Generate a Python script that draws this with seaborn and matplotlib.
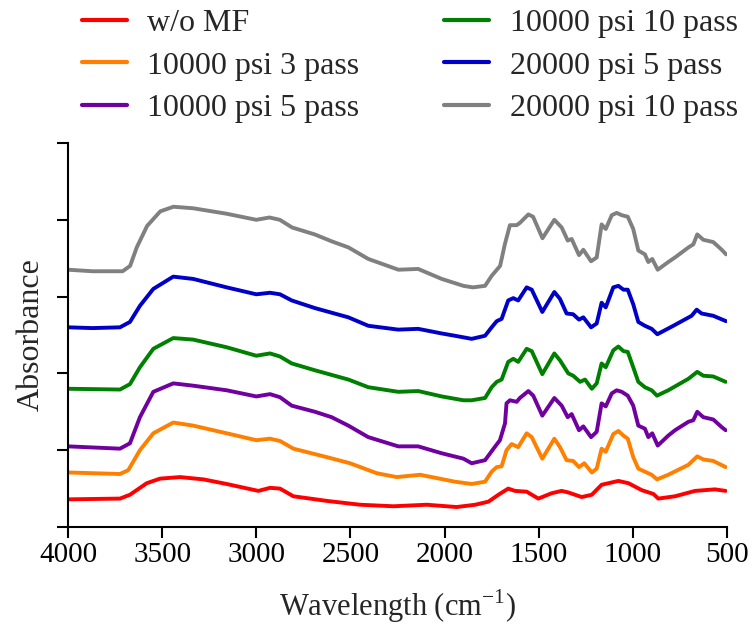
import matplotlib
matplotlib.use("Agg")
import matplotlib.pyplot as plt
import seaborn as sns
import pandas as pd

sns.set_style("ticks")
plt.rcParams["font.family"] = ["Liberation Serif", "DejaVu Serif"]
plt.rcParams["mathtext.fontset"] = "custom"
plt.rcParams["mathtext.rm"] = "Liberation Serif"

# ---- data (wavenumber cm-1, absorbance offset units) ----
labels = ["w/o MF", "10000 psi 3 pass", "10000 psi 5 pass",
          "10000 psi 10 pass", "20000 psi 5 pass", "20000 psi 10 pass"]
colors = ["#ff0000", "#ff8000", "#7000a0", "#008000", "#0000c8", "#808080"]

wn_red = [4000, 3724, 3671, 3582, 3511, 3405, 3281, 3157, 2989, 2927, 2874, 2803, 2626, 2449,
          2272, 2095, 1936, 1837, 1767, 1714, 1662, 1626, 1564, 1502, 1431, 1378, 1343, 1272,
          1218, 1166, 1130, 1077, 1023, 953, 891, 865, 776, 670, 564, 507]
abs_red = [0.36, 0.37, 0.42, 0.57, 0.63, 0.65, 0.62, 0.56, 0.47, 0.51, 0.50, 0.40, 0.34, 0.29,
           0.27, 0.29, 0.26, 0.29, 0.33, 0.42, 0.50, 0.47, 0.46, 0.37, 0.44, 0.47, 0.45, 0.39,
           0.42, 0.55, 0.57, 0.60, 0.57, 0.48, 0.43, 0.37, 0.40, 0.47, 0.49, 0.47]

wn_orange = [4000, 3724, 3680, 3618, 3547, 3441, 3335, 3157, 3000, 2927, 2874, 2803, 2626, 2502,
             2360, 2254, 2130, 1945, 1856, 1785, 1750, 1723, 1697, 1671, 1644, 1609, 1564, 1537,
             1481, 1417, 1387, 1352, 1317, 1286, 1258, 1218, 1192, 1166, 1144, 1104, 1077, 1050,
             1027, 998, 971, 936, 900, 872, 812, 705, 658, 626, 573, 507]
abs_orange = [0.71, 0.69, 0.74, 1.00, 1.22, 1.36, 1.32, 1.22, 1.13, 1.15, 1.12, 1.02, 0.91, 0.83,
              0.70, 0.65, 0.68, 0.59, 0.56, 0.59, 0.72, 0.78, 0.79, 1.00, 1.08, 1.04, 1.22, 1.17,
              0.89, 1.15, 1.04, 0.87, 0.86, 0.78, 0.83, 0.71, 0.76, 1.02, 0.98, 1.21, 1.25, 1.19,
              1.15, 0.91, 0.76, 0.72, 0.68, 0.62, 0.68, 0.81, 0.92, 0.88, 0.86, 0.78]

wn_purple = [4000, 3724, 3671, 3618, 3547, 3441, 3335, 3157, 3000, 2927, 2874, 2812, 2688, 2600,
             2511, 2405, 2246, 2140, 2015, 1900, 1856, 1785, 1740, 1706, 1679, 1671, 1653, 1617,
             1600, 1555, 1529, 1481, 1417, 1378, 1346, 1325, 1286, 1263, 1222, 1192, 1166, 1144,
             1112, 1086, 1059, 1027, 998, 971, 936, 918, 897, 868, 812, 776, 705, 679, 658, 626,
             573, 528, 507]
abs_purple = [1.05, 1.02, 1.09, 1.43, 1.76, 1.87, 1.84, 1.78, 1.70, 1.73, 1.69, 1.58, 1.50, 1.43,
              1.32, 1.17, 1.05, 1.05, 0.96, 0.89, 0.83, 0.87, 1.02, 1.13, 1.35, 1.61, 1.65, 1.63,
              1.68, 1.77, 1.71, 1.45, 1.68, 1.58, 1.43, 1.47, 1.26, 1.31, 1.17, 1.24, 1.61, 1.57,
              1.74, 1.78, 1.76, 1.71, 1.58, 1.32, 1.28, 1.17, 1.22, 1.06, 1.19, 1.26, 1.37, 1.39,
              1.50, 1.43, 1.40, 1.30, 1.26]

wn_green = [4000, 3724, 3671, 3618, 3547, 3441, 3335, 3157, 3000, 2927, 2874, 2812, 2688, 2511,
            2405, 2246, 2140, 2015, 1900, 1856, 1785, 1750, 1723, 1697, 1662, 1635, 1609, 1564,
            1537, 1481, 1417, 1387, 1343, 1317, 1280, 1254, 1218, 1192, 1166, 1144, 1104, 1077,
            1050, 1027, 998, 971, 936, 900, 872, 812, 705, 658, 626, 573, 507]
abs_green = [1.80, 1.79, 1.86, 2.08, 2.32, 2.46, 2.44, 2.34, 2.23, 2.26, 2.22, 2.13, 2.04, 1.92,
             1.82, 1.76, 1.77, 1.70, 1.65, 1.65, 1.68, 1.82, 1.89, 1.92, 2.15, 2.19, 2.15, 2.32,
             2.29, 1.99, 2.26, 2.17, 2.00, 1.97, 1.89, 1.92, 1.80, 1.87, 2.13, 2.08, 2.30, 2.35,
             2.29, 2.28, 2.08, 1.89, 1.82, 1.78, 1.71, 1.78, 1.93, 2.02, 1.97, 1.96, 1.89]

wn_blue = [4000, 3870, 3724, 3671, 3618, 3547, 3441, 3335, 3157, 3000, 2927, 2874, 2812, 2688,
           2511, 2405, 2246, 2140, 2015, 1945, 1856, 1785, 1750, 1723, 1697, 1662, 1635, 1609,
           1564, 1537, 1481, 1417, 1387, 1352, 1317, 1286, 1263, 1222, 1192, 1166, 1144, 1104,
           1077, 1050, 1027, 998, 971, 936, 900, 870, 785, 688, 661, 635, 573, 505]
abs_blue = [2.60, 2.59, 2.60, 2.67, 2.88, 3.10, 3.26, 3.23, 3.12, 3.03, 3.05, 3.03, 2.95, 2.85,
            2.73, 2.62, 2.57, 2.58, 2.52, 2.49, 2.45, 2.49, 2.60, 2.68, 2.71, 2.95, 2.98, 2.95,
            3.12, 3.09, 2.80, 3.06, 2.97, 2.78, 2.77, 2.70, 2.73, 2.60, 2.65, 2.92, 2.86, 3.12,
            3.14, 3.09, 3.09, 2.90, 2.67, 2.62, 2.58, 2.51, 2.62, 2.75, 2.83, 2.78, 2.75, 2.68]

wn_gray = [4000, 3870, 3710, 3670, 3635, 3580, 3510, 3440, 3335, 3160, 3000, 2930, 2875, 2810,
           2690, 2600, 2510, 2405, 2245, 2140, 2015, 1900, 1850, 1785, 1750, 1705, 1680, 1653,
           1617, 1600, 1555, 1530, 1480, 1417, 1378, 1346, 1325, 1286, 1263, 1222, 1192, 1166,
           1144, 1112, 1086, 1059, 1027, 998, 971, 936, 918, 897, 868, 812, 776, 705, 679, 658,
           626, 573, 528, 505]
abs_gray = [3.35, 3.33, 3.33, 3.40, 3.64, 3.92, 4.11, 4.17, 4.15, 4.08, 4.00, 4.03, 4.00, 3.90,
            3.81, 3.72, 3.64, 3.49, 3.35, 3.36, 3.23, 3.14, 3.12, 3.14, 3.27, 3.40, 3.68, 3.93,
            3.93, 3.96, 4.07, 4.04, 3.76, 4.00, 3.90, 3.73, 3.75, 3.54, 3.61, 3.46, 3.51, 3.94,
            3.88, 4.06, 4.09, 4.06, 4.04, 3.88, 3.60, 3.55, 3.45, 3.49, 3.35, 3.45, 3.51, 3.64,
            3.68, 3.81, 3.74, 3.71, 3.61, 3.55]

x_ticks = [4000, 3500, 3000, 2500, 2000, 1500, 1000, 500]
y_ticks = [0, 1, 2, 3, 4, 5]

series = [(wn_red, abs_red), (wn_orange, abs_orange), (wn_purple, abs_purple),
          (wn_green, abs_green), (wn_blue, abs_blue), (wn_gray, abs_gray)]
frames = []
for lab, (w, a) in zip(labels, series):
    frames.append(pd.DataFrame({"wn": w, "absorbance": a, "sample": lab}))
df = pd.concat(frames, ignore_index=True)

fig = plt.figure(figsize=(7.53, 6.26), dpi=100)
ax = fig.add_axes([68 / 753, 1 - 527 / 626, (727 - 68) / 753, (527 - 143) / 626])

sns.lineplot(data=df, x="wn", y="absorbance", hue="sample", hue_order=labels,
             palette=dict(zip(labels, colors)), sort=False, estimator=None,
             linewidth=2.8, ax=ax)

ax.set_xlim(4000, 500)
ax.set_ylim(0, 5)
ax.set_xticks(x_ticks)
ax.set_xticklabels([str(t) for t in x_ticks])
ax.set_yticks(y_ticks)
ax.set_yticklabels([])
for s in ["top", "right"]:
    ax.spines[s].set_visible(False)
for s in ["left", "bottom"]:
    ax.spines[s].set_linewidth(1.5)
    ax.spines[s].set_color("black")
ax.tick_params(axis="both", direction="out", length=8, width=1.5, colors="black",
               labelsize=21, pad=3)
ax.set_xlabel("Wavelength (cm$^{-1}$)", fontsize=22, labelpad=14)
ax.set_ylabel("Absorbance", fontsize=23, labelpad=5)

handles, labs = ax.get_legend_handles_labels()
ax.get_legend().remove()
leg = fig.legend(handles, labs, loc="upper left", bbox_to_anchor=(66 / 753, 1.011),
                 ncol=2, frameon=False, fontsize=23, borderpad=0, handlelength=1.4,
                 handletextpad=0.65, columnspacing=2.65, labelspacing=0.4)
for h in leg.get_lines():
    h.set_linewidth(3)

fig.savefig("out.png", dpi=100)
